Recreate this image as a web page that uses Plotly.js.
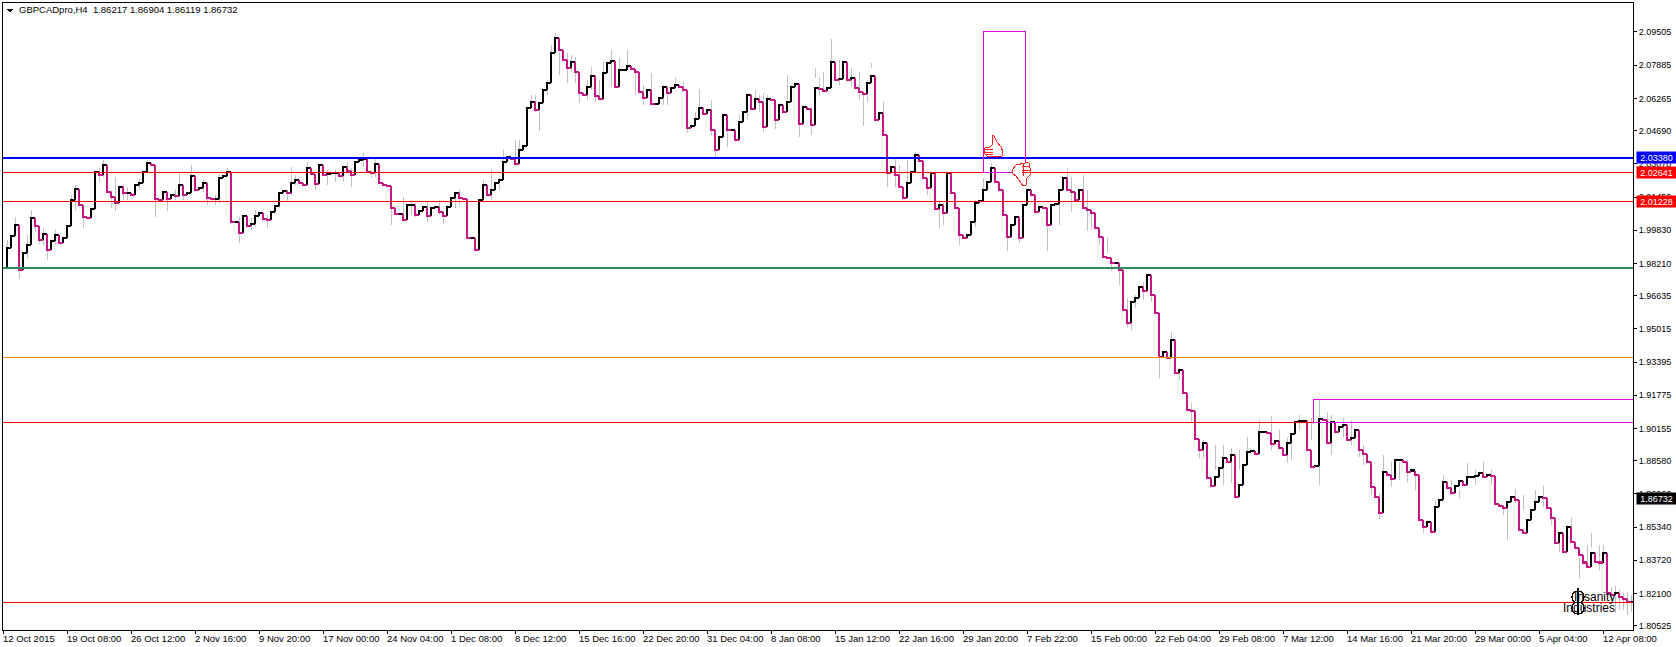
<!DOCTYPE html>
<html><head><meta charset="utf-8">
<script src="https://cdn.plot.ly/plotly-3.0.1.min.js"></script>
<style>html,body{margin:0;padding:0;background:#fff}#c{width:1676px;height:647px}
.js-line,.shapelayer path{shape-rendering:crispEdges}</style>
</head><body><div id="c"></div>
<script>
const closes = [
1.9804,1.9897,1.9955,2.0009,1.9789,1.9872,1.9911,2.0043,2.0004,1.9936,
1.9965,1.9887,1.9931,1.9960,1.9921,1.9946,2.0004,2.0131,2.0185,2.0107,
2.0048,2.0043,2.0087,2.0268,2.0253,2.0302,2.0170,2.0146,2.0116,2.0194,
2.0165,2.0165,2.0155,2.0204,2.0214,2.0268,2.0312,2.0302,2.0136,2.0131,
2.0170,2.0136,2.0155,2.0151,2.0204,2.0155,2.0165,2.0248,2.0180,2.0190,
2.0214,2.0141,2.0136,2.0136,2.0238,2.0248,2.0268,2.0024,2.0024,1.9970,
2.0053,2.0004,2.0014,2.0053,2.0068,2.0038,2.0033,2.0072,2.0102,2.0165,
2.0175,2.0165,2.0214,2.0229,2.0214,
2.0204,2.0287,2.0258,2.0209,2.0302,2.0253,2.0258,2.0263,2.0263,2.0248,
2.0292,2.0273,2.0253,2.0316,2.0326,2.0331,2.0268,2.0263,2.0307,2.0214,
2.0204,2.0199,2.0092,2.0063,2.0063,2.0033,2.0107,2.0107,2.0058,2.0077,
2.0097,2.0053,2.0092,2.0097,2.0072,2.0053,2.0097,2.0141,2.0165,2.0141,
2.0136,1.9946,1.9946,1.9887,2.0131,2.0204,2.0155,2.0180,2.0214,2.0229,
2.0316,2.0341,2.0331,2.0307,2.0375,2.0395,2.0580,2.0609,2.0570,2.0604,
2.0668,2.0702,2.0848,2.0922,2.0863,2.0814,2.0775,2.0804,2.0756,2.0653,
2.0643,2.0682,2.0736,2.0639,2.0624,
2.0751,2.0800,2.0809,2.0682,2.0765,2.0765,2.0785,2.0770,2.0756,2.0658,
2.0629,2.0668,2.0599,2.0599,2.0629,2.0682,2.0653,2.0678,2.0692,2.0682,
2.0668,2.0482,2.0492,2.0526,2.0580,2.0551,2.0570,2.0473,2.0375,2.0438,
2.0546,2.0473,2.0473,2.0424,2.0512,2.0560,2.0643,2.0575,2.0624,2.0609,
2.0487,2.0624,2.0619,2.0521,2.0595,2.0560,2.0609,2.0682,2.0697,2.0502,
2.0585,2.0575,2.0497,2.0678,2.0673,2.0663,2.0678,2.0804,2.0717,2.0721,
2.0804,2.0717,2.0726,2.0678,2.0658,2.0648,2.0702,2.0736,2.0521,2.0556,
2.0448,2.0263,2.0292,2.0253,2.0194,
2.0141,2.0214,2.0268,2.0351,2.0321,2.0238,2.0190,2.0263,2.0087,2.0107,
2.0068,2.0263,2.0165,2.0092,1.9960,1.9946,1.9960,2.0024,2.0116,2.0126,
2.0180,2.0219,2.0287,2.0219,2.0180,
2.0058,1.9950,2.0009,2.0048,1.9946,2.0107,2.0180,2.0155,2.0072,2.0097,
2.0092,2.0009,2.0107,2.0111,2.0180,2.0238,2.0180,2.0170,2.0131,2.0180,
2.0092,2.0082,2.0068,1.9994,1.9950,
1.9853,1.9848,1.9824,1.9824,1.9789,1.9594,1.9531,1.9633,1.9653,1.9706,
1.9687,1.9765,1.9667,1.9580,1.9365,1.9389,1.9360,1.9448,1.9287,1.9301,
1.9189,1.9106,1.9101,1.8965,1.8911,1.8945,1.8774,
1.8735,1.8779,1.8823,1.8872,1.8852,1.8887,1.8682,1.8740,1.8838,1.8901,
1.8906,1.8891,1.8999,1.8999,1.8994,1.8940,1.8955,1.8921,1.8887,1.8945,
1.8989,1.9048,1.9053,1.9053,1.8911,1.8828,1.8833,1.9062,1.9057,1.8945,
1.9048,1.8999,1.9023,1.9033,1.8960,1.8970,1.9009,1.8911,1.8891,1.8852,
1.8730,1.8682,1.8604,1.8804,1.8789,1.8769,1.8862,1.8862,1.8852,1.8804,
1.8809,1.8789,1.8569,
1.8535,1.8560,1.8511,1.8633,1.8667,1.8755,1.8726,1.8701,1.8735,1.8760,
1.8740,1.8779,1.8779,1.8784,1.8799,1.8779,1.8789,1.8784,1.8647,1.8638,
1.8628,1.8657,1.8682,1.8667,1.8521,1.8506,1.8569,1.8618,1.8657,1.8682,
1.8677,1.8628,1.8579,1.8457,1.8506,1.8413,1.8535,1.8462,1.8433,1.8399,
1.8360,1.8340,1.8408,1.8364,1.8360,1.8408,1.8213,1.8203,1.8213,1.8194,
1.8184,1.8169,1.8169];
const wickCandles = [3,4,7,9,11,20,25,28,38,41,44,47,51,59,63,69,72,73,81,87,90,93,97,100,106,110,113,120,122,125,128,132,134,137,138,141,143,144,147,149,152,156,162,166,168,171,174,178,181,186,188,190,193,196,199,202,203,205,207,212,215,217,220,221,223,224,228,234,235,236,243,247,251,254,261,264,266,267,270,271,272,276,277,281,282,283,285,289,292,295,297,299,307,311,317,321,324,329,332,335,337,339,342,344,345,347,351,355,358,360,364,366,370,375,376,378,385,389,392,394,397,400,402,403,405,406,
1,6,8,10,13,17,18,24,27,30,31,34,36,43,45,50,53,54,56,62,66,71,76,78,83,85,86,92,102,103,109,111,114,124,129,133,136,139,142,146,148,150,154,158,160,165,170,173,177,180,184,189,191,194,197,200,204,209,214,216,
226,231,239,245,258,274,279,287,294,300,303,305,309,314,319,322,327,331,340,349,353,362,368,372,380,383,387,391,396,399,404,407];
const wickHighs = [2.0048,1.9897,2.0082,1.9994,1.9926,2.0082,2.0326,2.0243,2.0146,2.0170,2.0263,2.0302,2.0146,2.0048,2.0082,2.0170,2.0292,2.0253,2.0277,2.0287,2.0360,2.0336,2.0097,2.0146,2.0121,2.0082,2.0170,2.0229,2.0282,2.0375,2.0424,2.0643,2.0595,2.0887,2.0946,2.0848,2.0829,2.0692,2.0780,2.0717,2.0863,2.0863,2.0751,2.0653,2.0726,2.0487,2.0673,2.0390,2.0536,2.0653,2.0668,2.0653,2.0580,2.0741,2.0556,2.0585,2.0775,2.0756,2.0917,2.0775,2.0653,2.0800,2.0609,2.0351,2.0341,2.0302,2.0365,2.0121,2.0116,2.0268,2.0131,2.0312,2.0048,1.9975,2.0097,2.0131,2.0287,2.0243,2.0253,2.0180,2.0082,1.9946,1.9853,1.9653,1.9545,1.9667,1.9731,1.9365,1.9487,1.9262,1.9140,1.8911,1.8921,1.8974,1.9077,1.8970,1.9082,1.9155,1.9082,1.9067,1.9057,1.8945,1.8813,1.8701,1.8887,1.8852,1.8862,1.8555,1.8667,1.8789,1.8716,1.8848,1.8852,1.8643,1.8653,1.8721,1.8735,1.8496,1.8579,1.8384,1.8506,1.8447,1.8242,1.8247,1.8213,1.8218,
1.9936,1.9960,2.0024,1.9994,1.9985,2.0155,2.0204,2.0287,2.0180,2.0204,2.0190,2.0238,2.0326,2.0180,2.0190,2.0229,2.0155,2.0253,2.0287,2.0043,2.0058,2.0180,2.0316,2.0238,2.0277,2.0287,2.0316,2.0277,2.0131,2.0116,2.0131,2.0107,2.0180,2.0238,2.0424,2.0643,2.0717,2.0853,2.0839,2.0717,2.0741,2.0804,2.0824,2.0756,2.0692,2.0692,2.0707,2.0560,2.0619,2.0546,2.0546,2.0643,2.0643,2.0604,2.0692,2.0595,2.0726,2.0814,2.0756,2.0717,
2.0326,2.0238,2.0009,2.0238,2.0155,1.9975,1.9789,1.9702,1.9311,1.8960,1.8935,1.8935,1.8911,1.9057,1.9009,1.8984,1.9067,1.9096,1.8935,1.8852,1.8789,1.8765,1.8813,1.8813,1.8691,1.8716,1.8618,1.8545,1.8447,1.8447,1.8228,1.8203];
const wickLows = [1.9999,1.9745,1.9985,1.9916,1.9838,1.9994,2.0243,2.0077,2.0048,2.0077,2.0146,2.0180,2.0107,1.9921,1.9999,2.0092,2.0155,2.0204,2.0204,2.0194,2.0292,2.0243,2.0009,2.0033,2.0024,2.0014,2.0092,2.0141,2.0131,2.0316,2.0292,2.0580,2.0468,2.0814,2.0873,2.0702,2.0702,2.0604,2.0668,2.0619,2.0682,2.0765,2.0599,2.0595,2.0682,2.0458,2.0556,2.0341,2.0390,2.0521,2.0570,2.0463,2.0477,2.0619,2.0438,2.0448,2.0726,2.0668,2.0804,2.0682,2.0492,2.0775,2.0512,2.0194,2.0194,2.0194,2.0302,1.9994,2.0009,2.0116,1.9999,2.0219,1.9882,1.9921,1.9882,2.0009,2.0229,2.0072,2.0097,1.9980,1.9985,1.9872,1.9785,1.9511,1.9497,1.9604,1.9643,1.9262,1.9375,1.9189,1.9048,1.8872,1.8750,1.8838,1.8911,1.8848,1.9009,1.8740,1.8887,1.8974,1.8935,1.8877,1.8691,1.8574,1.8799,1.8730,1.8755,1.8506,1.8569,1.8701,1.8677,1.8740,1.8774,1.8594,1.8472,1.8653,1.8633,1.8413,1.8511,1.8286,1.8438,1.8408,1.8194,1.8116,1.8130,1.8106,
1.9828,1.9848,1.9975,1.9911,1.9911,2.0082,2.0082,2.0219,2.0092,2.0131,2.0131,2.0180,2.0277,2.0131,2.0131,2.0170,2.0107,2.0116,2.0238,1.9985,1.9994,2.0121,2.0238,2.0180,2.0219,2.0219,2.0268,2.0238,2.0058,2.0048,2.0058,2.0072,2.0107,2.0180,2.0326,2.0560,2.0643,2.0741,2.0756,2.0619,2.0609,2.0619,2.0756,2.0643,2.0595,2.0595,2.0658,2.0497,2.0448,2.0473,2.0448,2.0560,2.0546,2.0521,2.0619,2.0512,2.0643,2.0692,2.0619,2.0609,
2.0204,2.0155,1.9911,2.0155,2.0058,1.9911,1.9716,1.9633,1.9253,1.8872,1.8813,1.8740,1.8813,1.8960,1.8935,1.8862,1.8960,1.8960,1.8838,1.8765,1.8716,1.8691,1.8740,1.8740,1.8618,1.8643,1.8545,1.8447,1.8350,1.8325,1.8130,1.8120];
const levelBlue = 2.03380, levelRedA = 2.02641, levelRedB = 2.01228, levelGreen = 1.9800, levelOrange = 1.9363, levelRedC = 1.9046, levelRedD = 1.8167;
const priceTicks = [2.09505,2.07885,2.06265,2.04690,2.03070,2.01450,1.99830,1.98210,1.96635,1.95015,1.93395,1.91775,1.90155,1.88580,1.86960,1.85340,1.83720,1.82100,1.80525];
const priceTickText = ["2.09505","2.07885","2.06265","2.04690","2.03070","2.01450","1.99830","1.98210","1.96635","1.95015","1.93395","1.91775","1.90155","1.88580","1.86960","1.85340","1.83720","1.82100","1.80525"];
const dateLabels = ["12 Oct 2015","19 Oct 08:00","26 Oct 12:00","2 Nov 16:00","9 Nov 20:00","17 Nov 00:00","24 Nov 04:00","1 Dec 08:00","8 Dec 12:00","15 Dec 16:00","22 Dec 20:00","31 Dec 04:00","8 Jan 08:00","15 Jan 12:00","22 Jan 16:00","29 Jan 20:00","7 Feb 22:00","15 Feb 00:00","22 Feb 04:00","29 Feb 08:00","7 Mar 12:00","14 Mar 16:00","21 Mar 20:00","29 Mar 00:00","5 Apr 04:00","12 Apr 08:00"];
const barsPerLabel = 32, barsPerCandle = 2;
const titleText = "GBPCADpro,H4  1.86217 1.86904 1.86119 1.86732";

const FONT = "Liberation Sans";
const L=3,T=3,W=1630,H=627;
const px = x => (x-L)/W, py = y => 1-(y-T)/H;
const path = pts => pts.map((p,i)=>(i?'L':'M')+px(p[0]).toFixed(5)+','+py(p[1]).toFixed(5)).join(' ');

// step-line bodies, coloured by direction
const up={x:[],y:[]}, dn={x:[],y:[]};
closes.forEach((c,i)=>{
  if(i===0) return;
  const p=closes[i-1], b=c>=p?up:dn, x=i*barsPerCandle;
  b.x.push(x,x,x+barsPerCandle,null); b.y.push(p,c,c,null);
});
const wx=[],wy=[];
wickCandles.forEach((k,i)=>{wx.push(k*barsPerCandle,k*barsPerCandle,null);wy.push(wickHighs[i],wickLows[i],null);});

const traces=[
 {type:'scatter',mode:'lines',x:wx,y:wy,line:{color:'#C0C0C0',width:1},hoverinfo:'skip'},
 {type:'scatter',mode:'lines',x:up.x,y:up.y,line:{color:'#000000',width:2.6},hoverinfo:'skip'},
 {type:'scatter',mode:'lines',x:dn.x,y:dn.y,line:{color:'#C71585',width:2.6},hoverinfo:'skip'}
];
const hline=(y,color,width)=>({type:'line',xref:'paper',x0:0,x1:1,yref:'y',y0:y,y1:y,line:{color,width},layer:'above'});
const shapes=[
 hline(levelBlue,'#0000FF',2),hline(levelRedA,'#FF0000',1),hline(levelRedB,'#FF0000',1),
 hline(levelGreen,'#2E8B57',2),hline(levelOrange,'#FF8C00',1),hline(levelRedC,'#FF0000',1),hline(levelRedD,'#FF0000',1),
 {type:'rect',xref:'x',yref:'y',x0:490,x1:511,y0:levelRedA,y1:2.0953,line:{color:'#E000E0',width:1},fillcolor:'rgba(0,0,0,0)'},
 {type:'rect',xref:'x',yref:'y',x0:655,x1:815,y0:levelRedC,y1:1.9158,line:{color:'#E000E0',width:1},fillcolor:'rgba(0,0,0,0)'}
];
const red={color:'#FF2020',width:1};
const deco=(pts,fill)=>({type:'path',xref:'paper',yref:'paper',path:path(pts),line:red,fillcolor:fill?'#FFFFFF':'rgba(0,0,0,0)',layer:'above'});
// thumb-up icon
shapes.push(deco([[992,136],[994,136],[997,142],[1001,147],[1003,152],[1002,156],[998,157],[988,157],[985,154],[985,148],[990,147],[993,144],[992,136]],true));
[[985,150,993,149],[985,152,993,152],[986,155,993,155]].forEach(a=>shapes.push(deco([[a[0],a[1]],[a[2],a[3]]])));
// thumb-down icon
shapes.push(deco([[1012,170],[1016,165],[1025,163],[1029,163],[1031,172],[1030,175],[1027,178],[1026,185],[1023,186],[1019,180],[1016,176],[1013,174],[1012,170]],true));
[[1022,167,1029,167],[1022,170,1030,170],[1022,173,1030,173],[1024,164,1024,176]].forEach(a=>shapes.push(deco([[a[0],a[1]],[a[2],a[3]]])));
// watermark logo
shapes.push({type:'circle',xref:'paper',yref:'paper',x0:px(1572),x1:px(1584),y0:py(591),y1:py(603),line:{color:'#000',width:1.5}});
shapes.push({type:'circle',xref:'paper',yref:'paper',x0:px(1572),x1:px(1584),y0:py(602),y1:py(614),line:{color:'#000',width:1.5}});
shapes.push(deco([[1578,588],[1578,615]]));
shapes[shapes.length-1].line={color:'#000',width:1.5};
// small black triangle next to the title
shapes.push({type:'path',xref:'paper',yref:'paper',path:path([[7,9],[13,9],[10,12]])+' Z',line:{color:'#000',width:1},fillcolor:'#000',layer:'above'});

const annotations=[];
annotations.push({xref:'paper',yref:'paper',x:px(17),y:py(10),xanchor:'left',yanchor:'middle',text:titleText.replace(/ {2}/,'&nbsp;&nbsp;'),showarrow:false,font:{family:FONT,size:9.5,color:'#000'}});
dateLabels.forEach((t,i)=>annotations.push({xref:'x',yref:'paper',x:i*barsPerLabel,y:py(638),xanchor:'left',yanchor:'middle',xshift:-1,text:t,showarrow:false,font:{family:FONT,size:9.5,color:'#000'},borderpad:0}));
const tag=(y,t,bg)=>({xref:'paper',yref:'y',x:px(1636),y:y,xanchor:'left',yanchor:'middle',text:t,showarrow:false,bgcolor:bg,width:39,height:11,align:'center',borderpad:0,font:{family:FONT,size:9,color:'#fff'}});
annotations.push(tag(levelBlue,'2.03380','#0000FF'),tag(levelRedA,'2.02641','#FF0000'),tag(levelRedB,'2.01228','#FF0000'),tag(1.86732,'1.86732','#000000'));
annotations.push({xref:'paper',yref:'paper',x:px(1572),y:py(597),xanchor:'left',yanchor:'middle',text:'Insanity',showarrow:false,font:{family:FONT,size:12,color:'#000'}});
annotations.push({xref:'paper',yref:'paper',x:px(1561),y:py(608),xanchor:'left',yanchor:'middle',text:'Industries',showarrow:false,font:{family:FONT,size:12,color:'#000'}});

const layout={
 width:1676,height:647,margin:{l:L,r:1676-L-W,t:T,b:647-T-H,pad:0},
 paper_bgcolor:'#fff',plot_bgcolor:'#fff',showlegend:false,dragmode:false,hovermode:false,
 xaxis:{range:[0,815],tickmode:'array',tickvals:dateLabels.map((_,i)=>i*barsPerLabel),showticklabels:false,ticks:'outside',ticklen:3,tickwidth:1,tickcolor:'#000',showgrid:false,zeroline:false,showline:true,linecolor:'#000',linewidth:1,mirror:true},
 yaxis:{side:'right',range:[1.8032,2.1092],tickmode:'array',tickvals:priceTicks,ticktext:priceTickText,ticks:'outside',ticklen:3,tickwidth:1,tickcolor:'#000',showgrid:false,zeroline:false,showline:true,linecolor:'#000',linewidth:1,mirror:true,tickfont:{family:FONT,size:9,color:'#000'}},
 shapes,annotations
};
Plotly.newPlot('c',traces,layout,{displayModeBar:false,staticPlot:true});
</script></body></html>
